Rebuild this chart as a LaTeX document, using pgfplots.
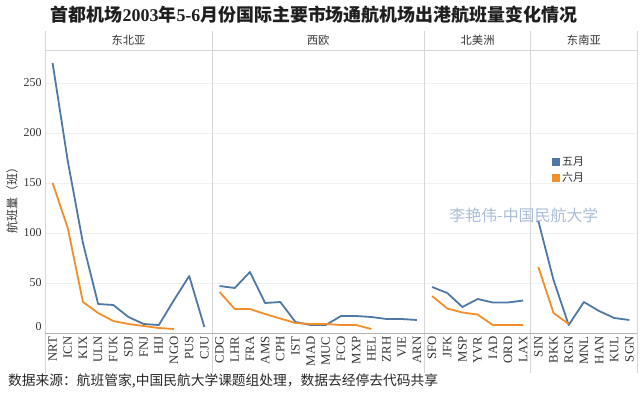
\documentclass[border=0pt]{standalone}
\usepackage{pgfplots}
\pgfplotsset{compat=1.18}
\usepackage{fontspec}
\setmainfont{Liberation Serif}
\newfontfamily\cjk{Noto Sans CJK SC}
\definecolor{tblue}{HTML}{4E79A7}
\definecolor{torange}{HTML}{F28E2B}
\definecolor{divgray}{HTML}{D6D6D6}
\definecolor{txtgray}{HTML}{333333}
\definecolor{wm}{HTML}{A9BDD8}

\pgfplotstableread{
x may
0 270
1 172
2 90
3 29
4 28
5 16
6 9
7 8
8 33
9 57
10 6
10.5 nan
11 47
12 45
13 61
14 30
15 31
16 11
17 8
18 8
19 17
20 17
21 16
22 14
23 14
24 13
24.5 nan
25 46
26 40
27 26
28 34
29 30.5
30 30.5
31 32.5
31.5 nan
32 112
33 53
34 8
35 31
36 22
37 15
38 13
}\maytable

\pgfplotstableread{
x jun
0 150
1 105
2 31
3 20
4 12
5 9
6 7
7 5
8 4
10.5 nan
11 41
12 24
13 24
14 19
15 14.5
16 10
17 9
18 9
19 8
20 8
21 4
24.5 nan
25 37
26 24.5
27 20.5
28 18.5
29 8
30 8
31 8
31.5 nan
32 66
33 20
34 9
}\juntable

\begin{document}
\begin{tikzpicture}[x=1bp,y=1bp]
\path (0,0) rectangle (640,397);
\begin{axis}[
  at={(45bp,64bp)}, anchor=south west,
  width=592bp, height=282.3bp, scale only axis,
  xmin=-0.5, xmax=38.5, ymin=0, ymax=282.3,
  clip=false,
  axis line style={draw=none},
  major tick length=0pt,
  xtick={0,...,38},
  xticklabels={NRT,ICN,KIX,ULN,FUK,SDJ,FNJ,HIJ,NGO,PUS,CJU,CDG,LHR,FRA,AMS,CPH,IST,MAD,MUC,FCO,MXP,HEL,ZRH,VIE,ARN,SFO,JFK,MSP,YVR,IAD,ORD,LAX,SIN,BKK,RGN,MNL,HAN,KUL,SGN},
  xticklabel style={rotate=90, anchor=east, font=\fontsize{12.8}{13}\selectfont, text=txtgray},
  ytick={50,100,150,200,250},
  extra y ticks={0},
  extra y tick style={yticklabel style={yshift=6bp}, grid=none},
  yticklabel style={font=\fontsize{12}{13}\selectfont, text=txtgray},
  /pgf/number format/assume math mode=true,
  ymajorgrids, grid style={draw=black!6, line width=0.6bp},
  unbounded coords=jump,
  ylabel={航班量（班）},
  every axis y label/.style={at={(axis description cs:-0.0557,0.48)}, rotate=90, anchor=center, font=\cjk\fontsize{12}{13}\selectfont, text=txtgray},
  legend style={at={(axis cs:32.9,178)}, anchor=north west, draw=none, fill=none,
    font=\cjk\fontsize{11}{12}\selectfont, text=txtgray, row sep=1bp, inner sep=0pt,
    nodes={inner sep=2bp}},
  legend cell align=left,
  legend image code/.code={\fill[draw=none] (0bp,-4bp) rectangle (8bp,4bp);},
]
% dividers and frame
\draw[divgray, line width=0.7bp] (axis cs:-0.5,-40) -- (axis cs:-0.5,302);
\draw[divgray, line width=0.7bp] (axis cs:10.5,-40) -- (axis cs:10.5,302);
\draw[divgray, line width=0.7bp] (axis cs:24.5,-40) -- (axis cs:24.5,302);
\draw[divgray, line width=0.7bp] (axis cs:31.5,-40) -- (axis cs:31.5,302);
\draw[divgray, line width=0.7bp] (axis cs:38.5,-40) -- (axis cs:38.5,302);
\draw[divgray, line width=0.7bp] (axis cs:-0.5,282.3) -- (axis cs:38.5,282.3);
\draw[black!30, line width=0.7bp] (axis cs:-0.5,0) -- (axis cs:38.5,0);
% panel headers
\node[font=\cjk\fontsize{11.3}{12}\selectfont, text=txtgray] at (axis cs:5,293) {东北亚};
\node[font=\cjk\fontsize{11.3}{12}\selectfont, text=txtgray] at (axis cs:17.5,293) {西欧};
\node[font=\cjk\fontsize{11.3}{12}\selectfont, text=txtgray] at (axis cs:28,293) {北美洲};
\node[font=\cjk\fontsize{11.3}{12}\selectfont, text=txtgray] at (axis cs:35,293) {东南亚};
% watermark
\node[font=\cjk\fontsize{16}{17}\selectfont, text=wm] at (axis cs:31.05,118) {李艳伟-中国民航大学};

\addplot[color=tblue, line width=1.8bp, line join=round] table[x=x, y=may] {\maytable};
\addlegendentry{五月}
\addplot[color=torange, line width=1.8bp, line join=round] table[x=x, y=jun] {\juntable};
\addlegendentry{六月}
\end{axis}
\node[font=\fontsize{18}{20}\selectfont, text=black!88] at (314,382)
  {{\cjk\bfseries 首都机场}\textbf{2003}{\cjk\bfseries 年}\textbf{5-6}{\cjk\bfseries 月份国际主要市场通航机场出港航班量变化情况}};
\node[anchor=west, font=\cjk\fontsize{13.8}{15}\selectfont, text=black!85, inner sep=0pt] at (8,16)
  {数据来源：航班管家,中国民航大学课题组处理，数据去经停去代码共享};
\end{tikzpicture}
\end{document}
